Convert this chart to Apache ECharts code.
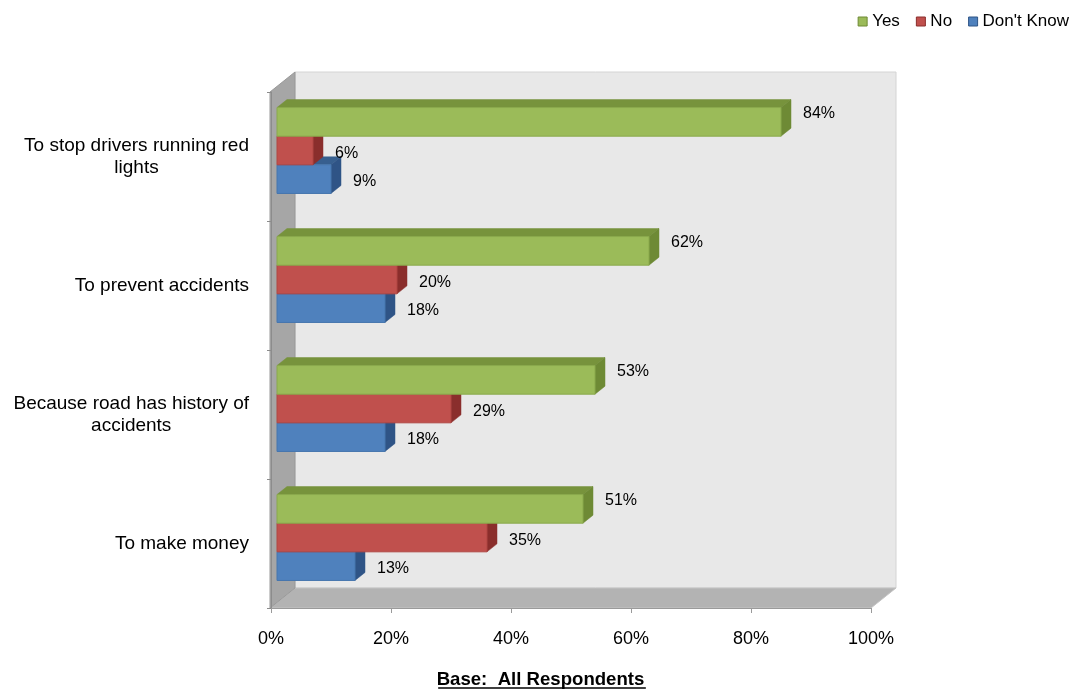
<!DOCTYPE html>
<html>
<head>
<meta charset="utf-8">
<script src="https://cdn.jsdelivr.net/npm/echarts@6/dist/echarts.min.js"></script>
<style>
  html, body { margin: 0; padding: 0; background: #ffffff; }
  #chart { width: 1081px; height: 690px; }
</style>
</head>
<body>
<div id="chart"></div>
<script>
// Survey answers, in percent of all respondents
const categories = [
  'To stop drivers running red\nlights',
  'To prevent accidents',
  'Because road has history of\naccidents',
  'To make money'
];
const seriesNames = ['Yes', 'No', "Don't Know"];
const yesValues = [84, 62, 53, 51];
const noValues = [6, 20, 29, 35];
const dontKnowValues = [9, 18, 18, 13];
const xTickValues = [0, 20, 40, 60, 80, 100];
const footnote = 'Base:  All Respondents';

const FONT = '"Liberation Sans", Arial, Helvetica, sans-serif';

// Shaded faces for each series: front, top, side, outline
const palette = {
  'Yes':        { front: '#9bbb59', top: '#77933c', side: '#6e8a35', edge: '#8aa94c' },
  'No':         { front: '#c0504d', top: '#943634', side: '#8a2e2c', edge: '#b04643' },
  "Don't Know": { front: '#4f81bd', top: '#375f8f', side: '#2f5486', edge: '#4676ae' }
};

// Pseudo-3D geometry (pixels)
const WALL_DEPTH = [25, -20];   // back wall offset from the axis plane
const BAR_SHIFT = [6, -6];      // bar front face offset from the axis plane
const BAR_DEPTH = [10, -8];     // bar thickness in depth

// Frame: left wall, back wall and floor around the plot area
function renderFrame(params, api) {
  const cs = params.coordSys;
  const L = cs.x - 1, R = cs.x + cs.width, T = cs.y, B = cs.y + cs.height;
  const dx = WALL_DEPTH[0], dy = WALL_DEPTH[1];
  return {
    type: 'group',
    children: [
      { type: 'rect', shape: { x: L + dx, y: T + dy, width: R - L, height: B - T },
        style: { fill: '#e8e8e8', stroke: '#d4d4d4', lineWidth: 1 } },
      { type: 'polygon', shape: { points: [[L, B], [L + dx, B + dy], [R + dx, B + dy], [R, B]] },
        style: { fill: '#b3b3b3', stroke: '#c4c4c4', lineWidth: 1 } },
      { type: 'polygon', shape: { points: [[L, T], [L + dx, T + dy], [L + dx, B + dy], [L, B]] },
        style: { fill: '#a6a6a6', stroke: '#999999', lineWidth: 1 } }
    ]
  };
}

// Bars: slot -1 / 0 / +1 inside each category band
function barRenderer(slot, colors, labelDy) {
  return function (params, api) {
    const cat = api.value(0);
    const val = api.value(1);
    const p0 = api.coord([0, cat]);
    const p1 = api.coord([val, cat]);
    const band = api.size([0, 1])[1];
    const h = band * 0.222;
    const cy = p0[1] + slot * h + BAR_SHIFT[1];
    const x0 = p0[0] + BAR_SHIFT[0];
    const x1 = p1[0] + BAR_SHIFT[0];
    const yT = cy - h / 2, yB = cy + h / 2;
    const dx = BAR_DEPTH[0], dy = BAR_DEPTH[1];
    return {
      type: 'group',
      children: [
        { type: 'polygon',
          shape: { points: [[x0, yT], [x0 + dx, yT + dy], [x1 + dx, yT + dy], [x1, yT]] },
          style: { fill: colors.top, stroke: colors.top, lineWidth: 0.5 } },
        { type: 'polygon',
          shape: { points: [[x1, yT], [x1 + dx, yT + dy], [x1 + dx, yB + dy], [x1, yB]] },
          style: { fill: colors.side, stroke: colors.side, lineWidth: 0.5 } },
        { type: 'rect',
          shape: { x: x0, y: yT, width: x1 - x0, height: h },
          style: { fill: colors.front, stroke: colors.edge, lineWidth: 1 } },
        { type: 'text',
          style: { text: val + '%', x: x1 + 22, y: cy + labelDy, fill: '#000000',
                   font: '16px ' + FONT, align: 'left', verticalAlign: 'middle' } }
      ]
    };
  };
}

function barSeries(name, values, slot, labelDy, z) {
  return {
    name: name,
    type: 'custom',
    coordinateSystem: 'cartesian2d',
    z: z,
    itemStyle: { color: palette[name].front },
    encode: { x: 1, y: 0 },
    data: values.map((v, i) => [i, v]),
    renderItem: barRenderer(slot, palette[name], labelDy)
  };
}

// Footnote width, for its underline
const FOOT_FONT = 'bold 18.6px ' + FONT;
const measureCtx = document.createElement('canvas').getContext('2d');
measureCtx.font = FOOT_FONT;
const footW = measureCtx.measureText(footnote).width;

const chart = echarts.init(document.getElementById('chart'), null, { renderer: 'canvas' });

chart.setOption({
  backgroundColor: '#ffffff',
  animation: false,
  textStyle: { fontFamily: FONT },
  legend: {
    right: 7,
    top: 8,
    itemWidth: 9,
    itemHeight: 9,
    itemGap: 16,
    icon: 'rect',
    textStyle: { fontSize: 17, color: '#000000', fontFamily: FONT },
    data: seriesNames.map(n => ({
      name: n,
      itemStyle: { color: palette[n].front, borderColor: palette[n].side, borderWidth: 1 }
    }))
  },
  grid: { left: 271, right: 210, top: 92, bottom: 82, containLabel: false },
  xAxis: {
    type: 'value',
    min: xTickValues[0],
    max: xTickValues[xTickValues.length - 1],
    interval: xTickValues[1] - xTickValues[0],
    z: 3,
    axisLine: { show: true, lineStyle: { color: '#9a9a9a', width: 1 } },
    axisTick: { show: true, length: 5, lineStyle: { color: '#9a9a9a' } },
    splitLine: { show: false },
    axisLabel: { formatter: v => v + '%', fontSize: 18, color: '#000000', margin: 22, fontFamily: FONT }
  },
  yAxis: {
    type: 'category',
    inverse: true,
    data: categories,
    z: 3,
    axisLine: { show: true, lineStyle: { color: '#8c8c8c', width: 1 } },
    axisTick: { show: true, length: 4, lineStyle: { color: '#8c8c8c' } },
    axisLabel: {
      margin: 22,
      formatter: v => '{c|' + v + '}',
      rich: { c: { align: 'center', fontSize: 19, lineHeight: 22, color: '#000000', fontFamily: FONT } }
    }
  },
  graphic: [
    { type: 'text', left: 'center', top: 670,
      style: { text: footnote, font: FOOT_FONT, fill: '#000000' } },
    { type: 'line', shape: { x1: 542 - footW / 2, y1: 688, x2: 542 + footW / 2, y2: 688 },
      style: { stroke: '#000000', lineWidth: 1.5 } }
  ],
  series: [
    {
      name: 'frame',
      type: 'custom',
      coordinateSystem: 'cartesian2d',
      silent: true,
      z: 1,
      encode: { x: 1, y: 0 },
      data: [[0, 0]],
      renderItem: renderFrame
    },
    barSeries("Don't Know", dontKnowValues, 1, 2, 4),
    barSeries('No', noValues, 0, 3, 5),
    barSeries('Yes', yesValues, -1, -8, 6)
  ]
});
</script>
</body>
</html>
